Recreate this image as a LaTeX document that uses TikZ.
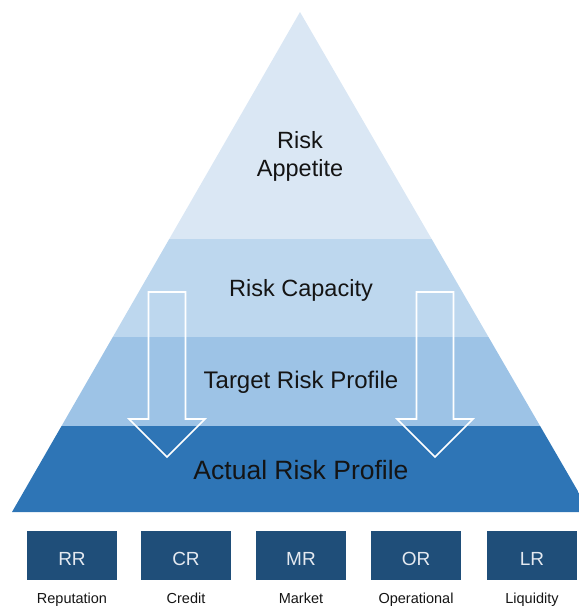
\documentclass[tikz,border=0pt]{standalone}
\usepackage{fontspec}
\setmainfont{Liberation Sans}
\usetikzlibrary{positioning}

\definecolor{appetitefill}{HTML}{DAE7F4}
\definecolor{capacityfill}{HTML}{BDD7EE}
\definecolor{targetfill}{HTML}{9DC3E6}
\definecolor{actualfill}{HTML}{2E75B6}
\definecolor{boxfill}{HTML}{1F4E79}
\definecolor{darktext}{HTML}{141414}
\definecolor{boxtext}{HTML}{E4E9F0}

\tikzset{
  layer text/.style={text=darktext, anchor=base, font=\fontsize{23.5}{28}\selectfont},
  down arrow/.style={draw=white, line width=1.6pt, line join=miter},
  riskbox/.style={fill=boxfill, text=boxtext, minimum width=90pt, minimum height=49pt,
    inner sep=0pt, text height=20.6pt, text depth=0pt, font=\fontsize{19}{21}\selectfont},
  risklabel/.style={text=darktext, anchor=base, font=\fontsize{14.5}{16}\selectfont}
}

\begin{document}
\begin{tikzpicture}[x=1pt, y=-1pt, line cap=round, line join=round]
  \useasboundingbox (0,0) rectangle (579,606);
  \coordinate (apex) at (300,12);
  \coordinate (baseleft) at (12,512);
  \coordinate (baseright) at (590,512);

  % pyramid layers
  \begin{scope}
    \clip (0,0) rectangle (579,606);
    \clip (apex) -- (baseleft) -- (baseright) -- cycle;
    \fill[appetitefill] (0,0) rectangle (600,239);
    \fill[capacityfill] (0,239) rectangle (600,337);
    \fill[targetfill] (0,337) rectangle (600,426);
    \fill[actualfill] (0,426) rectangle (600,513);
  \end{scope}

  % hollow arrows
  \foreach \x in {167,435}
    \draw[down arrow] (\x-18.5,292) -- (\x+18.5,292) -- (\x+18.5,419) -- (\x+38,419)
      -- (\x,457) -- (\x-38,419) -- (\x-18.5,419) -- cycle;

  \node[layer text] (risk) at (300,148) {Risk};
  \node[layer text] (appetite) at (300,176) {Appetite};
  \node[layer text] (capacity) at (301,296) {Risk Capacity};
  \node[layer text, font=\fontsize{24}{28}\selectfont] (target) at (301,388) {Target Risk Profile};
  \node[layer text, font=\fontsize{26.5}{30}\selectfont] (actual) at (301,479) {Actual Risk Profile};

  % risk categories
  \foreach \name/\x/\desc in {RR/72/Reputation, CR/186/Credit, MR/301/Market, OR/416/Operational, LR/532/Liquidity} {
    \node[riskbox] (\name) at (\x,555.5) {\name};
    \node[risklabel] (\name-label) at (\x,603) {\desc};
  }
\end{tikzpicture}
\end{document}
